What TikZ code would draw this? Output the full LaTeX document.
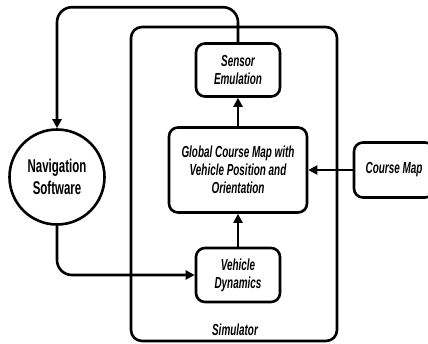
\documentclass[tikz,border=0pt]{standalone}
\usepackage{fontspec}
\usepackage{tikz}
\usetikzlibrary{arrows.meta}
\newfontfamily\agency[FakeStretch=0.62]{Liberation Sans}

\begin{document}
\begin{tikzpicture}[x=1pt,y=-1pt,line width=2.6pt]

  \tikzstyle{block}=[draw, rounded corners=9pt, align=center,
                     font=\agency\bfseries\itshape\fontsize{16}{18}\selectfont]
  \tikzstyle{simbox}=[draw, rounded corners=11pt, minimum width=206pt, minimum height=314pt]
  \tikzstyle{software}=[draw, circle, minimum size=95pt, align=center,
                        font=\agency\bfseries\fontsize{18.5}{22}\selectfont]
  \tikzstyle{label}=[font=\agency\bfseries\itshape\fontsize{16}{18}\selectfont]
  \tikzstyle{flow}=[-{Triangle[length=9pt,width=9pt]}]

  \useasboundingbox (0,0) rectangle (428,343);

  \path
  (234,184) node[simbox](sim){};

  \path
  (238,70) node[block, minimum width=84pt, minimum height=53pt](sensor){Sensor\\Emulation}
  (238,170) node[block, minimum width=138pt, minimum height=85pt](global){Global Course Map with\\Vehicle Position and\\Orientation}
  (238,275) node[block, minimum width=84pt, minimum height=54pt](dynamics){Vehicle\\Dynamics};

  \path
  (394,170) node[block, minimum width=80pt, minimum height=55pt](coursemap){Course Map};

  \path
  (57,177) node[software](nav){Navigation\\Software};

  \draw (235,330) node[label]{Simulator};

  \draw[flow] (dynamics)--(global);
  \draw[flow] (global)--(sensor);
  \draw[flow] (coursemap)--(global);

  \draw[flow, rounded corners=15pt] (sensor.north) -- ++(0,-35) -| (nav.north);
  \draw[flow, rounded corners=15pt] (nav.south) |- (dynamics.west);

\end{tikzpicture}
\end{document}
